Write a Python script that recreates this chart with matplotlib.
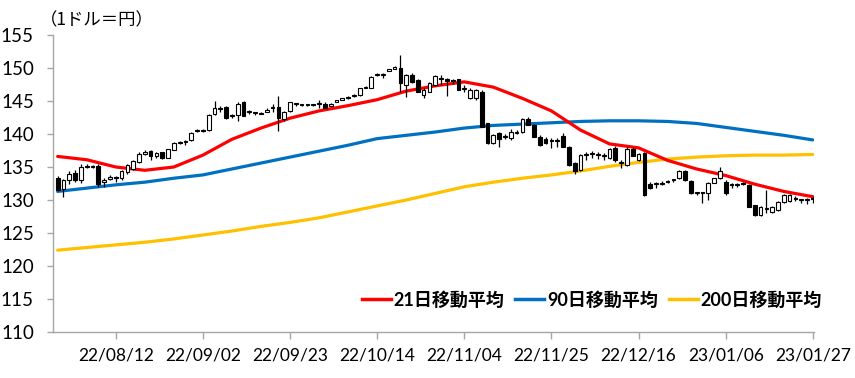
import numpy as np
import matplotlib
matplotlib.use("Agg")
import matplotlib.pyplot as plt
from matplotlib.lines import Line2D

# ---------------- data ----------------
tick_labels = ["22/08/12", "22/09/02", "22/09/23", "22/10/14", "22/11/04",
               "22/11/25", "22/12/16", "23/01/06", "23/01/27"]
tick_index = [10, 25, 40, 55, 70, 85, 100, 115, 130]

opens = [133.4, 131.6, 133.0, 134.1, 133.0, 135.0, 135.1, 135.2, 132.8, 133.2,
         133.5, 133.3, 134.2, 134.7, 135.8, 136.9, 137.4, 136.6, 137.2, 136.4,
         137.6, 138.7, 138.8, 139.1, 140.4, 140.6, 140.6, 143.0, 143.8, 144.1,
         142.7, 142.9, 144.9, 143.3, 143.2, 143.1, 143.4, 143.9, 144.1, 142.3,
         143.5, 144.5, 144.4, 144.4, 144.4, 144.5, 144.6, 144.3, 144.9, 145.2,
         145.4, 145.7, 145.9, 147.0, 147.0, 148.9, 149.0, 149.6, 149.9, 150.0,
         147.5, 149.0, 148.2, 145.9, 146.4, 147.4, 148.5, 148.3, 148.1, 148.3,
         146.8, 145.5, 145.4, 146.4, 141.6, 138.7, 140.1, 139.6, 139.4, 140.2,
         140.3, 142.3, 141.4, 139.6, 139.3, 139.1, 139.1, 139.7, 138.1, 135.6,
         134.5, 136.8, 137.0, 136.8, 136.7, 136.3, 137.9, 135.6, 135.3, 137.8,
         136.0, 137.1, 132.5, 132.4, 132.5, 132.8, 133.0, 133.3, 134.4, 132.9,
         131.0, 131.1, 131.0, 132.6, 133.3, 132.8, 132.3, 132.4, 132.5, 132.3,
         129.2, 127.7, 128.7, 128.2, 128.5, 129.7, 129.9, 130.3, 130.0, 130.0,
         130.1]
highs = [133.6, 133.2, 134.4, 134.5, 135.4, 135.4, 135.3, 135.5, 133.3, 133.8,
         133.7, 134.6, 135.5, 136.1, 137.2, 137.6, 137.5, 137.3, 137.3, 137.8,
         138.8, 139.0, 139.1, 140.3, 140.8, 140.8, 143.1, 145.0, 144.3, 144.3,
         143.0, 144.8, 145.0, 143.6, 143.4, 143.4, 143.9, 144.6, 145.8, 143.5,
         144.9, 144.7, 144.6, 144.6, 144.6, 145.2, 144.8, 144.7, 145.2, 145.5,
         145.7, 146.0, 147.0, 147.3, 148.8, 149.2, 149.3, 149.9, 150.3, 152.0,
         149.1, 149.2, 148.4, 147.0, 147.9, 149.0, 148.9, 148.5, 148.3, 148.4,
         147.4, 146.9, 146.8, 146.6, 141.7, 140.0, 140.3, 140.0, 140.8, 140.6,
         142.4, 142.5, 141.5, 139.8, 139.5, 139.4, 139.4, 140.1, 138.2, 135.8,
         136.9, 137.3, 137.4, 137.2, 137.1, 137.9, 138.2, 136.1, 138.0, 138.0,
         137.1, 137.2, 132.7, 132.7, 132.9, 133.0, 133.2, 134.5, 134.5, 133.0,
         131.2, 131.2, 132.7, 133.4, 135.0, 133.1, 132.5, 132.6, 132.8, 132.4,
         129.3, 129.1, 131.5, 129.1, 129.8, 130.9, 130.9, 130.6, 130.2, 130.3,
         130.4]
lows = [131.3, 130.5, 132.4, 132.8, 132.5, 134.8, 134.8, 132.0, 132.0, 133.0,
        132.8, 133.1, 134.0, 134.5, 135.6, 136.8, 136.1, 136.4, 136.2, 136.3,
        137.5, 138.5, 138.4, 139.0, 140.3, 140.3, 140.5, 142.9, 143.4, 142.3,
        142.4, 141.9, 142.7, 143.1, 142.9, 143.0, 143.3, 143.4, 140.5, 142.0,
        143.4, 144.2, 144.2, 144.2, 144.3, 143.9, 143.9, 144.2, 144.8, 145.1,
        145.3, 145.6, 145.8, 146.9, 146.9, 148.8, 148.5, 149.5, 149.8, 146.4,
        145.6, 147.8, 146.3, 145.4, 146.3, 147.3, 147.4, 145.8, 147.6, 146.6,
        146.3, 145.3, 145.2, 141.0, 138.5, 138.5, 138.0, 139.2, 139.1, 140.0,
        140.2, 141.3, 139.5, 138.2, 138.5, 137.9, 138.1, 138.0, 135.2, 133.9,
        134.4, 136.1, 136.4, 136.2, 136.0, 136.2, 135.8, 134.8, 135.2, 136.6,
        135.9, 130.6, 131.7, 131.8, 132.3, 132.5, 132.8, 133.2, 132.9, 130.9,
        130.8, 129.5, 130.0, 132.5, 133.2, 130.8, 131.8, 131.9, 132.2, 129.0,
        127.6, 127.5, 128.0, 128.0, 128.3, 129.6, 129.7, 129.9, 129.5, 129.4,
        129.6]
closes = [131.5, 133.0, 134.0, 133.1, 135.0, 135.1, 135.0, 132.5, 133.0, 133.5,
          133.3, 134.4, 135.3, 135.9, 137.0, 137.3, 136.6, 137.1, 136.3, 137.7,
          138.7, 138.8, 138.9, 140.2, 140.6, 140.5, 142.9, 143.9, 144.0, 142.4,
          142.8, 144.6, 142.8, 143.4, 143.2, 143.1, 143.7, 144.0, 142.4, 143.4,
          144.8, 144.6, 144.4, 144.5, 144.4, 144.7, 144.0, 144.5, 145.1, 145.4,
          145.6, 145.9, 146.9, 147.1, 148.7, 149.0, 149.1, 149.8, 150.1, 147.7,
          148.9, 147.9, 146.4, 146.7, 147.7, 148.8, 148.4, 148.1, 148.0, 146.7,
          146.9, 146.7, 146.7, 141.1, 138.6, 139.9, 139.3, 139.7, 140.3, 140.3,
          142.3, 141.4, 139.6, 138.3, 138.6, 139.0, 139.0, 138.1, 135.3, 134.4,
          136.8, 136.9, 137.1, 136.8, 136.7, 137.8, 136.1, 135.6, 137.8, 136.7,
          137.0, 130.8, 131.8, 132.5, 132.6, 132.8, 133.0, 134.4, 133.0, 131.0,
          131.0, 131.0, 132.6, 133.3, 134.4, 131.0, 132.2, 132.3, 132.5, 129.0,
          127.7, 129.0, 128.7, 129.0, 129.7, 130.8, 130.8, 130.2, 130.0, 130.0,
          130.1]

ma_index = [0, 5, 10, 15, 20, 25, 30, 35, 40, 45, 50, 55, 60, 65, 70, 75, 80,
            85, 90, 95, 100, 105, 110, 115, 120, 125, 130]
ma21 = [136.6, 136.1, 135.0, 134.5, 135.0, 136.8, 139.2, 140.9, 142.4, 143.5,
        144.3, 145.2, 146.5, 147.3, 147.9, 147.1, 145.4, 143.5, 140.6, 138.5,
        137.9, 136.0, 134.7, 133.7, 132.4, 131.3, 130.5]
ma90 = [131.3, 131.8, 132.3, 132.7, 133.3, 133.8, 134.7, 135.6, 136.5, 137.4,
        138.3, 139.3, 139.8, 140.3, 140.9, 141.3, 141.5, 141.7, 141.9, 142.0,
        142.0, 141.9, 141.6, 141.0, 140.4, 139.8, 139.1]
ma200 = [122.4, 122.8, 123.2, 123.6, 124.1, 124.7, 125.3, 126.0, 126.6, 127.3,
         128.2, 129.1, 130.0, 131.0, 132.0, 132.7, 133.3, 133.8, 134.4, 135.1,
         135.7, 136.2, 136.5, 136.7, 136.8, 136.8, 136.9]
ma_labels = ["21日移動平均", "90日移動平均", "200日移動平均"]
ma_colors = ["#FF0000", "#0070C0", "#FFC000"]

# ---------------- figure ----------------
plt.rcParams['font.family'] = ['Lato', 'Noto Sans CJK JP', 'DejaVu Sans']
fig = plt.figure(figsize=(8.55, 3.78), dpi=100)
ax = fig.add_axes([53.3 / 855, 1 - 332 / 378, (814 - 53.3) / 855, (332 - 35) / 378])

for vals, col in zip([ma200, ma90, ma21], ma_colors[::-1]):
    ax.plot(ma_index, vals, color=col, lw=2.3, solid_capstyle='round',
            solid_joinstyle='round', zorder=2)

x = np.arange(len(closes))
o = np.array(opens); c = np.array(closes)
h = np.array(highs); l = np.array(lows)
up = c >= o
ax.vlines(x, l, h, color='black', lw=0.9, zorder=3)
bottom = np.minimum(o, c)
height = np.maximum(np.abs(c - o), 0.15)
ax.bar(x[up], height[up], bottom=bottom[up], width=0.64, color='white',
       edgecolor='black', linewidth=0.8, zorder=4)
ax.bar(x[~up], height[~up], bottom=bottom[~up], width=0.64, color='black',
       edgecolor='black', linewidth=0.8, zorder=4)

ax.set_xlim(-0.75, 130.2)
ax.set_ylim(110, 155)
ax.set_yticks(np.arange(110, 156, 5))
ax.set_xticks(tick_index)
ax.set_xticklabels(tick_labels)
for s in ['top', 'right']:
    ax.spines[s].set_visible(False)
for s in ['left', 'bottom']:
    ax.spines[s].set_color('#A6A6A6')
    ax.spines[s].set_linewidth(1.0)
ax.tick_params(axis='y', length=4, width=1.0, color='#A6A6A6', pad=10,
               labelsize=13.5, labelcolor='black')
ax.tick_params(axis='x', length=5, width=1.0, color='#A6A6A6', pad=6,
               labelsize=12.5, labelcolor='black')

fig.text(40 / 855, 1 - 20 / 378, "（1ドル＝円）", fontsize=12.5,
         family=['Noto Sans CJK JP'], va='center', ha='left')

handles = [Line2D([], [], color=col, lw=2.5) for col in ma_colors]
leg = fig.legend(handles, ma_labels, loc='center right',
                 bbox_to_anchor=(838 / 855, 1 - 300 / 378), ncol=3, frameon=False,
                 handlelength=1.6, handletextpad=0.15, columnspacing=0.6,
                 prop={'family': ['Lato', 'Noto Sans CJK JP'], 'weight': 'bold',
                       'size': 13})

fig.savefig("out.png", dpi=100)
